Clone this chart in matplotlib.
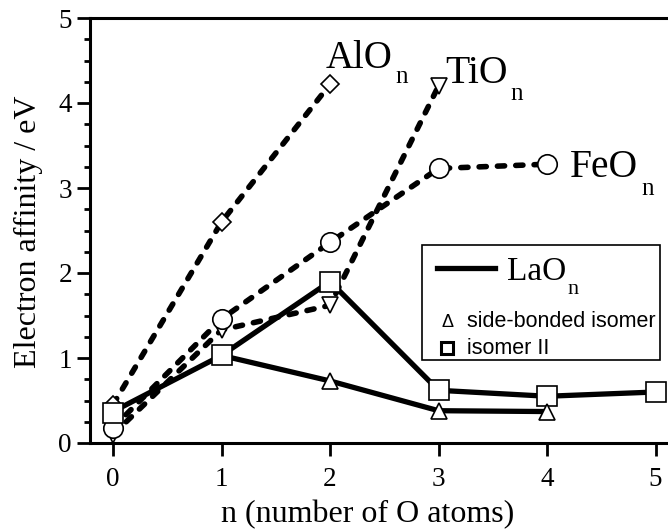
import matplotlib
matplotlib.use("Agg")
import matplotlib.pyplot as plt
from matplotlib.ticker import MultipleLocator
from matplotlib.patches import Rectangle
from matplotlib.lines import Line2D

plt.rcParams['font.family'] = ['Liberation Serif', 'DejaVu Serif']

# Data
al_n = [0, 1, 2]
al_ea = [0.45, 2.60, 4.22]
ti_n = [0, 1, 2, 3]
ti_ea = [0.10, 1.33, 1.62, 4.20]
fe_n = [0, 1, 2, 3, 4]
fe_ea = [0.18, 1.46, 2.36, 3.23, 3.28]
la_n = [0, 1, 2, 3, 4, 5]
la_ea = [0.37, 1.03, 1.90, 0.62, 0.55, 0.60]   # isomer II line
la_sq_n = [0, 1, 2, 3, 4, 5]
la_sq_ea = [0.35, 1.03, 1.90, 0.62, 0.55, 0.60]
la_sb_n = [1, 2, 3, 4]
la_sb_ea = [1.03, 0.73, 0.38, 0.37]            # side-bonded isomer (triangles)

W, H = 668, 532
fig = plt.figure(figsize=(W/100, H/100), dpi=100)
ax = fig.add_axes([90/W, 1-443/H, (W-90)/W, (443-18)/H])
ax.set_xlim(-0.212, 5.115)
ax.set_ylim(0, 5)

dash_kw = dict(color='black', lw=4.0, dashes=(1.3, 2.0), dash_capstyle='round', zorder=2)
mk = dict(mfc='white', mec='black', mew=1.2, ls='none', zorder=4)

ax.plot(al_n, al_ea, **dash_kw)
ax.plot(ti_n, ti_ea, **dash_kw)
ax.plot(fe_n, fe_ea, **dash_kw)
ax.plot(la_n, la_ea, color='black', lw=3.8, solid_joinstyle='miter', zorder=3)
ax.plot(la_sb_n, la_sb_ea, color='black', lw=3.8, zorder=3)

ax.plot(al_n, al_ea, marker='D', ms=9, **mk)
ax.plot(ti_n, ti_ea, marker='v', ms=12, **mk)
ax.plot(fe_n, fe_ea, marker='o', ms=14, **mk)
ax.plot(la_sq_n, la_sq_ea, marker='s', ms=14, **mk)
ax.plot(la_sb_n[1:], la_sb_ea[1:], marker='^', ms=12, **mk)

ax.spines['right'].set_visible(False)
for s in ['left', 'top', 'bottom']:
    ax.spines[s].set_linewidth(2.2)
ax.xaxis.set_major_locator(MultipleLocator(1))
ax.yaxis.set_major_locator(MultipleLocator(1))
ax.yaxis.set_minor_locator(MultipleLocator(0.25))
ax.tick_params(axis='both', which='major', direction='out', width=2, labelsize=19.5)
ax.tick_params(axis='x', which='major', length=9, pad=8)
ax.tick_params(axis='y', which='major', length=9.5, pad=3.5)
ax.tick_params(axis='y', which='minor', direction='out', length=4, width=2)
ax.tick_params(axis='x', which='minor', bottom=False)

ax.set_xlabel('n (number of O atoms)', fontsize=23)
ax.xaxis.set_label_coords((368-90)/578, (443-522)/425)
ax.xaxis.label.set_va('baseline')
ax.set_ylabel('Electron affinity / eV', fontsize=23)
ax.yaxis.set_label_coords((36-90)/578, (443-232)/425)
ax.yaxis.label.set_rotation_mode('anchor')
ax.yaxis.label.set_va('baseline')
ax.yaxis.label.set_ha('center')

def ftxt(px, py, s, size, **kw):
    fig.text(px/W, 1-py/H, s, fontsize=size, va='baseline', ha='left', **kw)

ftxt(326, 68, 'AlO', 28)
ftxt(395, 83, 'n', 18)
ftxt(445, 83, 'TiO', 28.5)
ftxt(510, 100, 'n', 18)
ftxt(570, 177, 'FeO', 28.5)
ftxt(641, 195, 'n', 18)

# Legend (manual)
fig.patches.append(Rectangle((422/W, 1-360/H), (660-422)/W, (360-245)/H,
                             transform=fig.transFigure, fill=False, ec='black', lw=1.2))
fig.lines.append(Line2D([437/W, 495/W], [1-268/H, 1-268/H], transform=fig.transFigure,
                        color='black', lw=3.8))
ftxt(507, 280, 'LaO', 24)
ftxt(567, 294, 'n', 16)
ftxt(441, 327, '\u0394', 13, family='Liberation Sans')
ftxt(467, 327, 'side-bonded isomer', 15.5, family='Liberation Sans')
fig.lines.append(Line2D([446.5/W], [1-348/H], transform=fig.transFigure, marker='s',
                        ms=8, mfc='white', mec='black', mew=2.2, ls='none'))
ftxt(467, 354, 'isomer II', 15.5, family='Liberation Sans')

fig.savefig('out.png', dpi=100)
